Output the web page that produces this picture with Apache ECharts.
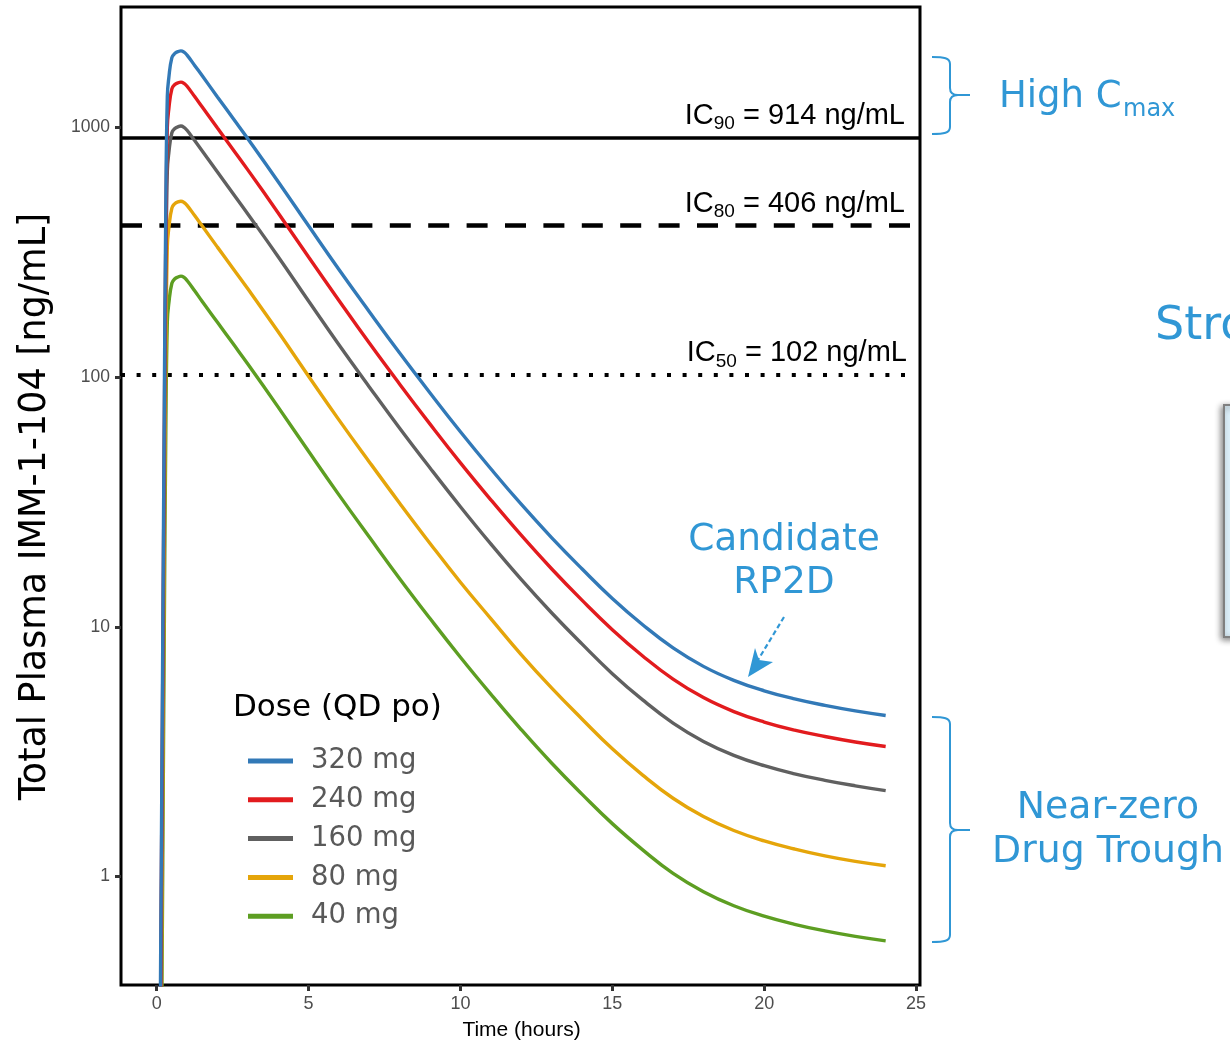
<!DOCTYPE html>
<html>
<head>
<meta charset="utf-8">
<title>IMM-1-104 plasma concentration by dose</title>
<script src="https://cdn.jsdelivr.net/npm/echarts@6/dist/echarts.min.js"></script>
<style>
  html, body { margin: 0; padding: 0; background: #fff; }
  #chart { width: 1230px; height: 1043px; }
</style>
</head>
<body>
<div id="chart"></div>
<script>
// sampled time points (hours)
const hours = [0.1, 0.2, 0.25, 0.3, 0.35, 0.4, 0.5, 0.6, 0.7, 0.8, 0.9, 1.0, 1.25, 1.5, 2, 2.5, 3,
  4, 5, 6, 7, 8, 9, 10, 11, 12, 13, 14, 15, 16, 17, 18, 19, 20, 21, 22, 23, 24];

// total plasma IMM-1-104 (ng/mL)
const conc320 = [0.13, 9, 77, 483, 1334, 1585, 1905, 1982, 2014, 2028, 2004, 1950, 1774, 1611, 1327, 1094,
  902, 607, 404, 270, 183, 125, 86.5, 60.5, 43.0, 31.0, 22.8, 17.1, 13.0, 10.2, 8.24, 6.95, 6.11, 5.55, 5.15, 4.85, 4.61, 4.42];
const conc240 = [0.1, 6.75, 57.8, 362, 1000, 1189, 1429, 1487, 1511, 1521, 1503, 1463, 1331, 1208, 995, 821,
  677, 455, 303, 203, 137, 93.8, 64.9, 45.4, 32.3, 23.3, 17.1, 12.8, 9.75, 7.65, 6.18, 5.21, 4.58, 4.16, 3.86, 3.64, 3.46, 3.32];
const conc160 = [0.065, 4.5, 38.5, 242, 667, 793, 953, 991, 1007, 1014, 1002, 975, 887, 806, 664, 547,
  451, 304, 202, 135, 91.5, 62.5, 43.3, 30.3, 21.5, 15.5, 11.4, 8.55, 6.5, 5.1, 4.12, 3.48, 3.06, 2.78, 2.58, 2.43, 2.31, 2.21];
const conc80 = [0.033, 2.25, 19.3, 121, 334, 396, 476, 496, 504, 507, 501, 488, 444, 403, 332, 274,
  226, 152, 101, 67.5, 45.8, 31.3, 21.6, 15.1, 10.8, 7.75, 5.7, 4.28, 3.25, 2.55, 2.06, 1.74, 1.53, 1.39, 1.29, 1.21, 1.15, 1.105];
const conc40 = [0.016, 1.13, 9.6, 60, 167, 198, 238, 248, 252, 254, 251, 244, 222, 201, 166, 137,
  113, 75.9, 50.5, 33.8, 22.9, 15.6, 10.8, 7.56, 5.38, 3.88, 2.85, 2.14, 1.63, 1.28, 1.03, 0.87, 0.764, 0.694, 0.644, 0.606, 0.576, 0.553];

const doseLabels = ['320 mg', '240 mg', '160 mg', '80 mg', '40 mg'];
const doseValues = [conc320, conc240, conc160, conc80, conc40];

// inhibitory concentration reference lines
const icLevels = ['90', '80', '50'];
const icValues = [914, 406, 102];

const timeTicks = [0, 5, 10, 15, 20, 25];
const concTicks = [1, 10, 100, 1000];

const xMin = -1.175;
const xMax = 25.13;

const doseColors = ['#3279b7', '#e21b1e', '#606060', '#e5a50a', '#5d9e22'];
const icDash = ['solid', [21, 17.4], [4, 11.6]];
const icWidth = [3.5, 4.5, 4];
const icEnd = [xMax, xMax, 24.75];       // the dotted line stops just short of the frame
const icLabelGap = [15, 15, 1.5];

const sansFont = '"DejaVu Sans"';
const arialFont = 'Liberation Sans';
const blue = '#3097d5';

const chart = echarts.init(document.getElementById('chart'));

// curly brace "}" built from plain line/bezier pieces
function brace(top, mid, bottom) {
  const st = { stroke: blue, fill: null, lineWidth: 2 };
  return [
    { type: 'bezierCurve', shape: { x1: 932, y1: top, cpx1: 944, cpy1: top, cpx2: 950, cpy2: top + 1, x2: 950, y2: top + 7 }, style: st },
    { type: 'line', shape: { x1: 950, y1: top + 7, x2: 950, y2: mid - 7 }, style: st },
    { type: 'bezierCurve', shape: { x1: 950, y1: mid - 7, cpx1: 950, cpy1: mid - 2, cpx2: 953, cpy2: mid, x2: 958, y2: mid }, style: st },
    { type: 'line', shape: { x1: 958, y1: mid, x2: 970, y2: mid }, style: st },
    { type: 'bezierCurve', shape: { x1: 958, y1: mid, cpx1: 953, cpy1: mid, cpx2: 950, cpy2: mid + 2, x2: 950, y2: mid + 7 }, style: st },
    { type: 'line', shape: { x1: 950, y1: mid + 7, x2: 950, y2: bottom - 7 }, style: st },
    { type: 'bezierCurve', shape: { x1: 950, y1: bottom - 7, cpx1: 950, cpy1: bottom - 1, cpx2: 944, cpy2: bottom, x2: 932, y2: bottom }, style: st }
  ];
}

const lineSeries = doseLabels.map((name, i) => ({
  name: name,
  type: 'line',
  data: hours.map((t, j) => [t, doseValues[i][j]]),
  showSymbol: false,
  smooth: 0.45,
  color: doseColors[i],
  lineStyle: { width: 3.4, color: doseColors[i] },
  z: 10 - i,
  silent: true
})).reverse();

const icSeries = {
  name: 'IC',
  type: 'line',
  data: [],
  silent: true,
  markLine: {
    silent: true,
    animation: false,
    symbol: ['none', 'none'],
    lineStyle: { color: '#000', cap: 'butt' },
    label: {
      show: true,
      position: 'insideEndTop',
      rich: {
        a: { fontFamily: arialFont, fontSize: 29, lineHeight: 36, color: '#000' },
        s: { fontFamily: arialFont, fontSize: 19, lineHeight: 12, color: '#000', verticalAlign: 'bottom' }
      }
    },
    data: icValues.map((v, i) => [
      {
        coord: [xMin, v],
        lineStyle: { type: icDash[i], width: icWidth[i], color: '#000' },
        label: {
          distance: [icLabelGap[i], 3.6],
          formatter: '{a|IC}{s|' + icLevels[i] + '}{a| = ' + v + ' ng/mL}'
        }
      },
      { coord: [icEnd[i], v] }
    ])
  }
};

const textEls = [
  {
    type: 'text', x: 35.5, y: 506.5, rotation: Math.PI / 2,
    style: { text: 'Total Plasma IMM-1-104 [ng/mL]', font: '36.5px ' + sansFont, fill: '#000',
      textAlign: 'center', textVerticalAlign: 'middle' }
  },
  {
    type: 'text', x: 521.5, y: 1030,
    style: { text: 'Time (hours)', font: '21px "Liberation Sans"', fill: '#000',
      textAlign: 'center', textVerticalAlign: 'middle' }
  },
  {
    type: 'text', x: 233, y: 708,
    style: { text: 'Dose (QD po)', font: '31px ' + sansFont, fill: '#000',
      textAlign: 'left', textVerticalAlign: 'middle' }
  },
  // High Cmax annotation
  {
    type: 'text', x: 999, y: 97,
    style: { text: 'High C', font: '37px ' + sansFont, fill: blue, textAlign: 'left', textVerticalAlign: 'middle' }
  },
  {
    type: 'text', x: 1123, y: 110,
    style: { text: 'max', font: '24px ' + sansFont, fill: blue, textAlign: 'left', textVerticalAlign: 'middle' }
  },
  // Near-zero trough annotation
  {
    type: 'text', x: 1108, y: 808,
    style: { text: 'Near-zero', font: '37.8px ' + sansFont, fill: blue, textAlign: 'center', textVerticalAlign: 'middle' }
  },
  {
    type: 'text', x: 1108, y: 852,
    style: { text: 'Drug Trough', font: '37.8px ' + sansFont, fill: blue, textAlign: 'center', textVerticalAlign: 'middle' }
  },
  // Candidate RP2D callout
  {
    type: 'text', x: 784, y: 540,
    style: { text: 'Candidate', font: '37.5px ' + sansFont, fill: blue, textAlign: 'center', textVerticalAlign: 'middle' }
  },
  {
    type: 'text', x: 784, y: 583,
    style: { text: 'RP2D', font: '37.5px ' + sansFont, fill: blue, textAlign: 'center', textVerticalAlign: 'middle' }
  },
  {
    type: 'line', shape: { x1: 784, y1: 617, x2: 758, y2: 660 },
    style: { stroke: blue, lineWidth: 2.2, lineDash: [5, 3] }
  },
  {
    type: 'polygon', shape: { points: [[748, 677], [755, 648], [759, 660], [773, 662]] },
    style: { fill: blue }
  },
  // neighbouring slide content, cut by the frame
  {
    type: 'text', x: 1155, y: 327,
    style: { text: 'Strong', font: '46px ' + sansFont, fill: blue, textAlign: 'left', textVerticalAlign: 'middle' }
  },
  {
    type: 'rect', shape: { x: 1224, y: 405, width: 40, height: 232 },
    style: { fill: '#ddf0fa', stroke: '#808080', lineWidth: 2, shadowBlur: 6,
      shadowColor: 'rgba(0,0,0,0.45)', shadowOffsetX: -2, shadowOffsetY: 2 }
  }
];

const option = {
  backgroundColor: '#fff',
  animation: false,
  grid: {
    left: 121, right: 310, top: 7, bottom: 58,
    show: true, borderColor: '#000', borderWidth: 3, backgroundColor: 'transparent'
  },
  xAxis: {
    type: 'value',
    min: xMin,
    max: xMax,
    axisLine: { show: false, onZero: false },
    splitLine: { show: false },
    axisTick: { show: true, length: 6, lineStyle: { color: '#333', width: 3 }, customValues: timeTicks },
    axisLabel: { customValues: timeTicks, color: '#4d4d4d', fontSize: 18, fontFamily: arialFont, margin: 10 }
  },
  yAxis: {
    type: 'log',
    logBase: 10,
    min: 0.368,
    max: 3040,
    axisLine: { show: false, onZero: false },
    splitLine: { show: false },
    axisTick: { show: true, length: 6, lineStyle: { color: '#333', width: 3 }, customValues: concTicks },
    axisLabel: {
      customValues: concTicks, color: '#4d4d4d', fontSize: 17.5, fontFamily: arialFont, margin: 11,
      formatter: (v) => String(v)
    }
  },
  legend: {
    orient: 'vertical',
    left: 248,
    top: 746,
    padding: 0,
    itemWidth: 45,
    itemHeight: 5,
    itemGap: 8.8,
    icon: 'rect',
    selectedMode: false,
    data: doseLabels,
    textStyle: { fontFamily: 'DejaVu Sans', fontSize: 27.5, color: '#595959', lineHeight: 30, padding: [0, 0, 0, 13] }
  },
  graphic: {
    elements: textEls.concat(brace(57, 95, 134), brace(717, 830, 942))
  },
  series: lineSeries.concat([icSeries])
};

chart.setOption(option);
</script>
</body>
</html>
